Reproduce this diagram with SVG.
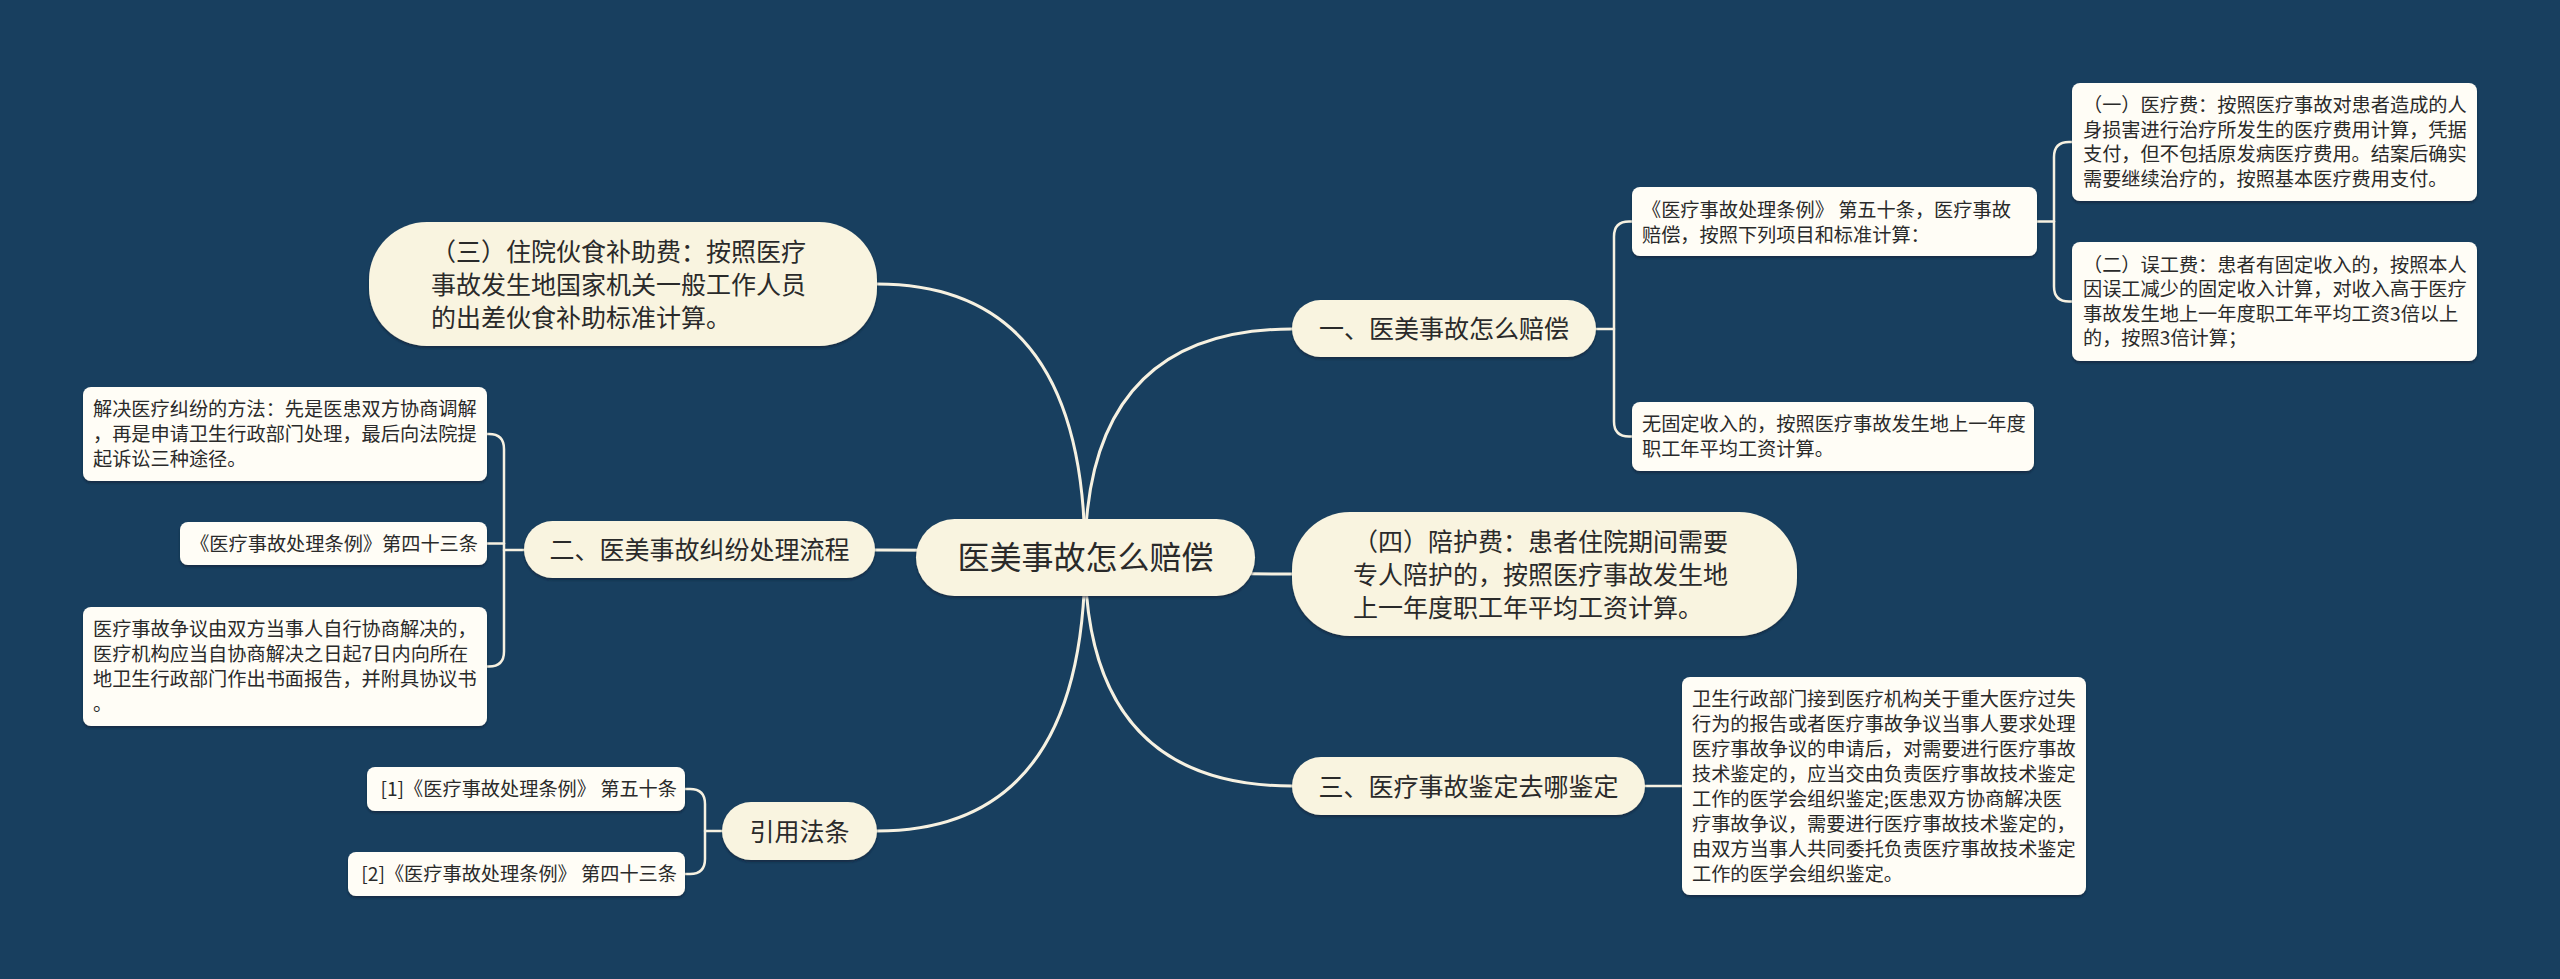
<svg xmlns="http://www.w3.org/2000/svg" width="2560" height="979" viewBox="0 0 2560 979">
<style>
.bg{fill:#183f5f}
.pill{fill:#f9f4e0}
.box{fill:#fffdf6}
.ln{fill:none;stroke:#f6f1e1;stroke-width:3;stroke-linecap:round}
.ln2{fill:none;stroke:#f6f1e1;stroke-width:2.5;stroke-linecap:round}
text{font-family:'Noto Sans CJK SC','Noto Sans',sans-serif;fill:#2a2a2a}
.r{font-size:32px;text-anchor:middle}
.m{font-size:25px;text-anchor:middle}
.ml{font-size:25px}
.s{font-size:19.2px}
.se{font-size:19.2px;text-anchor:end}
</style>
<defs>
<filter id="sh" x="-10%" y="-10%" width="120%" height="130%">
<feDropShadow dx="0" dy="2" stdDeviation="1.2" flood-color="#0b2236" flood-opacity="0.6"/>
</filter>
</defs>
<rect class="bg" x="0" y="0" width="2560" height="979"/>
<g id="connectors">
<path class="ln" d="M1085,557 Q1085,329 1292,329"/>
<path class="ln" d="M1085,557 Q1085,284 877,284"/>
<path class="ln" d="M1085,557 Q1085,550 875,550"/>
<path class="ln" d="M1085,557 Q1085,574 1292,574"/>
<path class="ln" d="M1085,557 Q1085,786 1292,786"/>
<path class="ln" d="M1085,557 Q1085,831 877,831"/>
<path class="ln2" d="M1596,329 H1614"/>
<path class="ln2" d="M1632,221.5 H1629 Q1614,221.5 1614,236.5 V421.5 Q1614,436.5 1629,436.5 H1632"/>
<path class="ln2" d="M2037,221.5 H2054"/>
<path class="ln2" d="M2072,142 H2069 Q2054,142 2054,157 V286.5 Q2054,301.5 2069,301.5 H2072"/>
<path class="ln2" d="M1645,786 H1682"/>
<path class="ln2" d="M524,550 H504"/>
<path class="ln2" d="M487,434 H489 Q504,434 504,449 V651.5 Q504,666.5 489,666.5 H487"/>
<path class="ln2" d="M487,543.5 H504"/>
<path class="ln2" d="M722,831 H705"/>
<path class="ln2" d="M685,789 H690 Q705,789 705,804 V859 Q705,874 690,874 H685"/>
</g>
<g id="root">
<rect class="pill" filter="url(#sh)" x="916" y="519" width="339" height="77" rx="38.5"/>
<text class="r" x="1085.5" y="569">医美事故怎么赔偿</text>
</g>
<g id="n1">
<rect class="pill" filter="url(#sh)" x="1292" y="300" width="304" height="57" rx="28.5"/>
<text class="m" x="1444" y="337.5">一、医美事故怎么赔偿</text>
</g>
<g id="n1a">
<rect class="box" filter="url(#sh)" x="1632" y="187" width="405" height="69" rx="8"/>
<text class="s"><tspan x="1642" y="217">《医疗事故处理条例》 第五十条，医疗事故</tspan><tspan x="1642" y="242">赔偿，按照下列项目和标准计算：</tspan></text>
</g>
<g id="n1a1">
<rect class="box" filter="url(#sh)" x="2072" y="83" width="405" height="118" rx="8"/>
<text class="s"><tspan x="2083" y="112">（一）医疗费：按照医疗事故对患者造成的人</tspan><tspan x="2083" y="136.5">身损害进行治疗所发生的医疗费用计算，凭据</tspan><tspan x="2083" y="161">支付，但不包括原发病医疗费用。结案后确实</tspan><tspan x="2083" y="185.5">需要继续治疗的，按照基本医疗费用支付。</tspan></text>
</g>
<g id="n1a2">
<rect class="box" filter="url(#sh)" x="2072" y="242" width="405" height="119" rx="8"/>
<text class="s"><tspan x="2083" y="271.5">（二）误工费：患者有固定收入的，按照本人</tspan><tspan x="2083" y="296">因误工减少的固定收入计算，对收入高于医疗</tspan><tspan x="2083" y="320.5">事故发生地上一年度职工年平均工资3倍以上</tspan><tspan x="2083" y="345">的，按照3倍计算；</tspan></text>
</g>
<g id="n1b">
<rect class="box" filter="url(#sh)" x="1632" y="402" width="402" height="69" rx="8"/>
<text class="s"><tspan x="1642" y="431">无固定收入的，按照医疗事故发生地上一年度</tspan><tspan x="1642" y="456">职工年平均工资计算。</tspan></text>
</g>
<g id="n4">
<rect class="pill" filter="url(#sh)" x="1292" y="512" width="505" height="124" rx="58"/>
<text class="ml"><tspan x="1353" y="550.5">（四）陪护费：患者住院期间需要</tspan><tspan x="1353" y="583.5">专人陪护的，按照医疗事故发生地</tspan><tspan x="1353" y="616.5">上一年度职工年平均工资计算。</tspan></text>
</g>
<g id="n3">
<rect class="pill" filter="url(#sh)" x="1292" y="757" width="353" height="58" rx="29"/>
<text class="m" x="1468.5" y="795.5">三、医疗事故鉴定去哪鉴定</text>
</g>
<g id="n3a">
<rect class="box" filter="url(#sh)" x="1682" y="677" width="404" height="218" rx="8"/>
<text class="s"><tspan x="1692" y="705.5">卫生行政部门接到医疗机构关于重大医疗过失</tspan><tspan x="1692" y="730.5">行为的报告或者医疗事故争议当事人要求处理</tspan><tspan x="1692" y="755.5">医疗事故争议的申请后，对需要进行医疗事故</tspan><tspan x="1692" y="780.5">技术鉴定的，应当交由负责医疗事故技术鉴定</tspan><tspan x="1692" y="805.5">工作的医学会组织鉴定;医患双方协商解决医</tspan><tspan x="1692" y="830.5">疗事故争议，需要进行医疗事故技术鉴定的，</tspan><tspan x="1692" y="855.5">由双方当事人共同委托负责医疗事故技术鉴定</tspan><tspan x="1692" y="880.5">工作的医学会组织鉴定。</tspan></text>
</g>
<g id="nsan">
<rect class="pill" filter="url(#sh)" x="369" y="222" width="508" height="124" rx="58"/>
<text class="ml"><tspan x="431" y="260.5">（三）住院伙食补助费：按照医疗</tspan><tspan x="431" y="293.5">事故发生地国家机关一般工作人员</tspan><tspan x="431" y="326.5">的出差伙食补助标准计算。</tspan></text>
</g>
<g id="n2">
<rect class="pill" filter="url(#sh)" x="524" y="521" width="351" height="57" rx="28.5"/>
<text class="m" x="699.5" y="559">二、医美事故纠纷处理流程</text>
</g>
<g id="n2a">
<rect class="box" filter="url(#sh)" x="83" y="387" width="404" height="94" rx="8"/>
<text class="s"><tspan x="93" y="416">解决医疗纠纷的方法：先是医患双方协商调解</tspan><tspan x="93" y="441">，再是申请卫生行政部门处理，最后向法院提</tspan><tspan x="93" y="466">起诉讼三种途径。</tspan></text>
</g>
<g id="n2b">
<rect class="box" filter="url(#sh)" x="180" y="522" width="307" height="43" rx="8"/>
<text class="se" x="478" y="550.5">《医疗事故处理条例》第四十三条</text>
</g>
<g id="n2c">
<rect class="box" filter="url(#sh)" x="83" y="607" width="404" height="119" rx="8"/>
<text class="s"><tspan x="93" y="636">医疗事故争议由双方当事人自行协商解决的，</tspan><tspan x="93" y="661">医疗机构应当自协商解决之日起7日内向所在</tspan><tspan x="93" y="686">地卫生行政部门作出书面报告，并附具协议书</tspan><tspan x="93" y="711">。</tspan></text>
</g>
<g id="nref">
<rect class="pill" filter="url(#sh)" x="722" y="802" width="155" height="58" rx="29"/>
<text class="m" x="799.5" y="840.5">引用法条</text>
</g>
<g id="nref1">
<rect class="box" filter="url(#sh)" x="367" y="767" width="318" height="44" rx="8"/>
<text class="se" x="677" y="796">[1]《医疗事故处理条例》 第五十条</text>
</g>
<g id="nref2">
<rect class="box" filter="url(#sh)" x="348" y="852" width="337" height="44" rx="8"/>
<text class="se" x="677" y="881">[2]《医疗事故处理条例》 第四十三条</text>
</g>
</svg>
